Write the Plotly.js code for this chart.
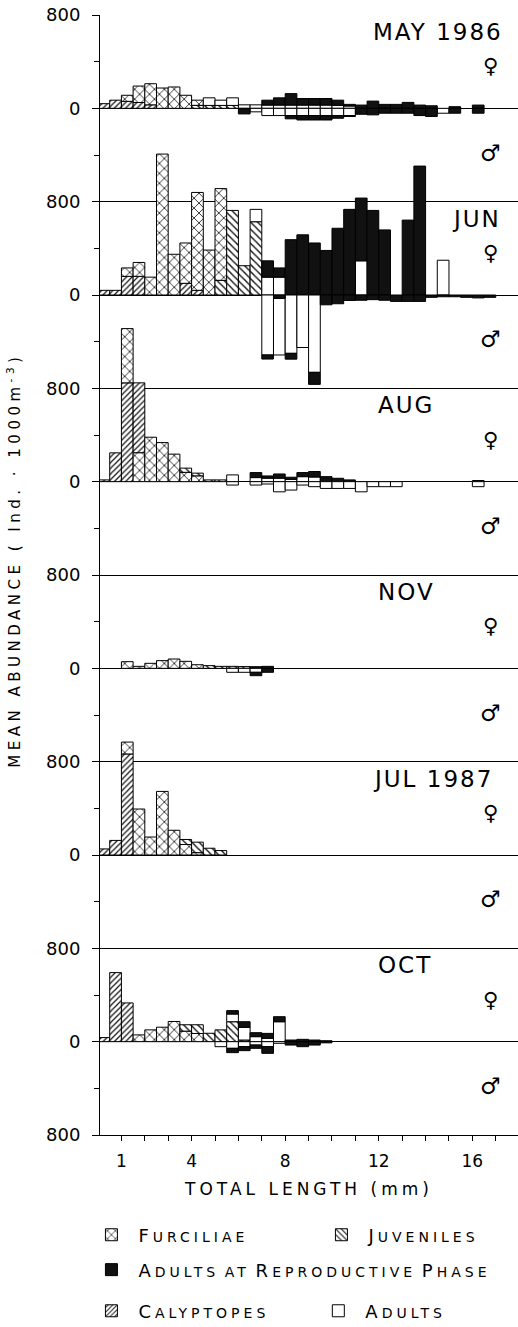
<!DOCTYPE html>
<html><head><meta charset="utf-8">
<script src="https://cdn.plot.ly/plotly-3.0.1.min.js"></script>
<style>
html,body{margin:0;padding:0;background:#fff;}
#chart{width:518px;height:1327px;}
#chart .xtitle{letter-spacing:4px;}
#chart .annotation-text{letter-spacing:2px;}
#chart .annotation-text[data-unformatted^="MEAN"]{letter-spacing:4.5px;}
</style>
</head><body><div id="chart"></div>
<script>
const _ = null;
// size classes (mm): bin centres, 0.5 mm wide
const binCenters = [0.25,0.75,1.25,1.75,2.25,2.75,3.25,3.75,4.25,4.75,5.25,5.75,6.25,6.75,7.25,7.75,8.25,8.75,9.25,9.75,10.25,10.75,11.25,11.75,12.25,12.75,13.25,13.75,14.25,14.75,15.25,15.75,16.25,16.75];
const months = ['MAY 1986','JUN','AUG','NOV','JUL 1987','OCT'];
const categories = ['Calyptopes','Furciliae','Juveniles','Adults','Adults at Reproductive Phase'];
const yTickValues = [800,0,-800,-1600,-2400,-3200,-4000,-4800,-5600,-6400,-7200,-8000,-8800];
const yTickText = ['800','0','800','0','800','0','800','0','800','0','800','0','800'];
const xTickValues = [1,4,8,12,16];
const xTickText = ['1','4','8','12','16'];
const yTitle = 'MEAN ABUNDANCE ( Ind. \u00b7 1000m<sup>-3</sup>)';
const xTitle = 'TOTAL LENGTH (mm)';

// values: mean abundance (ind. 1000 m^-3), each category measured from zero
// MAY 1986
const may_cal  = [40,70,60,50,30];
const may_fur  = [_,_,112,191,211,174,183,112,70];
const may_juv  = [_,_,_,_,_,_,_,_,25,25,25,25];
const may_adF  = [_,_,_,_,_,_,_,_,_,90,70,90,30,30,28,28,28,28,28,28,25,20];
const may_repF = [_,_,_,_,_,_,_,_,_,_,_,_,_,_,70,90,126,84,84,84,70,34,28,62,34,34,51,28,22,_,14,_,28];
const may_adM  = [_,_,_,_,_,_,_,_,_,_,_,_,_,30,62,62,62,62,62,62,62,62,_,_,_,_,_,_,_,42];
const may_repM = [_,_,_,_,_,_,_,_,_,_,_,_,48,_,_,_,90,100,100,100,85,70,51,56,42,42,42,62,70,_,42,_,42];
// JUN
const jun_cal  = [40,40,160,160,_,_,_,100,40];
const jun_fur  = [_,_,232,279,153,1208,349,446,879,385,912];
const jun_juv  = [_,_,_,_,_,_,_,_,_,_,125,725,251,628];
const jun_adF  = [_,_,_,_,_,_,_,_,_,_,_,_,_,734,153,153,_,_,_,_,_,_,293,_,_,_,_,_,_,298];
const jun_repF = [_,_,_,_,_,_,_,_,_,_,_,_,_,_,293,232,474,516,446,382,572,734,831,725,558,_,642,1105];
const jun_adM  = [_,_,_,_,_,_,_,_,_,_,_,_,_,_,514,514,500,450,663];
const jun_repM = [_,_,_,_,_,_,_,_,_,_,_,_,_,_,549,29,550,_,766,84,75,47,45,40,45,55,55,55,20,15,15,20,25,20];
// AUG
const aug_cal  = [15,247,847,847];
const aug_fur  = [_,_,1312,247,381,335,236,80,50];
const aug_juv  = [_,_,_,_,_,_,_,116,73,15,15];
const aug_adF  = [_,_,_,_,_,_,_,_,_,_,_,58,_,35,30,30,20,43,40,_,_,_,_,_,_,_,_,_,_,_,_,_,10];
const aug_repF = [_,_,_,_,_,_,_,_,_,_,_,_,_,78,49,66,38,78,87,43,29,15];
const aug_adM  = [_,_,_,_,_,_,_,_,_,_,_,29,_,29,20,87,72,29,43,58,58,58,87,43,43,43,_,_,_,_,_,_,43];
const aug_repM = [];
// NOV
const nov_cal  = [];
const nov_fur  = [_,_,57,17,43,66,80,60,31];
const nov_juv  = [_,_,_,_,_,_,_,_,_,23,17,17,15];
const nov_adF  = [];
const nov_repF = [_,_,_,_,_,_,_,_,_,_,_,_,_,14,17];
const nov_adM  = [_,_,_,_,_,_,_,_,_,_,_,34,34,34];
const nov_repM = [_,_,_,_,_,_,_,_,_,_,_,_,_,63,34];
// JUL 1987
const jul_cal  = [52,125,866];
const jul_fur  = [_,_,968,394,154,545,212,90,20];
const jul_juv  = [_,_,_,_,_,_,_,133,110,58,38];
const jul_adF  = [];
const jul_repF = [];
const jul_adM  = [];
const jul_repM = [];
// OCT
const oct_cal  = [35,592,332];
const oct_fur  = [_,_,_,58,101,124,173,90,70];
const oct_juv  = [_,_,_,_,_,_,_,145,145,72,101,171,14];
const oct_adF  = [_,_,_,_,_,_,_,_,_,_,_,237,123,43,29,171];
const oct_repF = [_,_,_,_,_,_,_,_,_,_,_,266,171,77,71,214,14,20,14,8];
const oct_adM  = [_,_,_,_,_,_,_,_,_,_,43,57,43,29,43,14];
const oct_repM = [_,_,_,_,_,_,_,_,_,_,_,94,77,57,100,_,29,43,29,10];

const panels = [
  {female:[may_cal,may_fur,may_juv,may_adF,may_repF], male:[[],[],[],may_adM,may_repM]},
  {female:[jun_cal,jun_fur,jun_juv,jun_adF,jun_repF], male:[[],[],[],jun_adM,jun_repM]},
  {female:[aug_cal,aug_fur,aug_juv,aug_adF,aug_repF], male:[[],[],[],aug_adM,aug_repM]},
  {female:[nov_cal,nov_fur,nov_juv,nov_adF,nov_repF], male:[[],[],[],nov_adM,nov_repM]},
  {female:[jul_cal,jul_fur,jul_juv,jul_adF,jul_repF], male:[[],[],[],jul_adM,jul_repM]},
  {female:[oct_cal,oct_fur,oct_juv,oct_adF,oct_repF], male:[[],[],[],oct_adM,oct_repM]}
];

const FONT = 'DejaVu Sans, Arial, sans-serif';
const markers = [
  {color:'white', line:{color:'black',width:1}, pattern:{shape:'/', fgcolor:'#111', bgcolor:'white', size:4, solidity:0.3, fillmode:'replace'}},
  {color:'white', line:{color:'black',width:1}, pattern:{shape:'x', fgcolor:'#111', bgcolor:'white', size:7, solidity:0.22, fillmode:'replace'}},
  {color:'white', line:{color:'black',width:1}, pattern:{shape:'\\', fgcolor:'#111', bgcolor:'white', size:5, solidity:0.28, fillmode:'replace'}},
  {color:'white', line:{color:'black',width:1}},
  {color:'#111', line:{color:'black',width:1}}
];
// one legend box per entry, arranged like the key of the figure
const legendOf = ['legend4','legend','legend2','legend5','legend3'];
// small capitals: capital letters stay large, lower-case letters become small capitals
function smallCaps(s){
  return s.split(' ').map(w => {
    const first = w[0];
    const big = first === first.toUpperCase();
    return (big ? "<span style='letter-spacing:4px'>" + first + "</span>" +
                  "<span style='font-size:14px;letter-spacing:4px'>" + w.slice(1).toUpperCase() + '</span>'
                : "<span style='font-size:14px;letter-spacing:4px'>" + w.toUpperCase() + '</span>');
  }).join(' ');
}

// overlapping histograms: the smaller value is drawn in front
function segments(list){
  const out = list.map(() => ({lo:[], h:[]}));
  for (let i = 0; i < binCenters.length; i++){
    const vals = list.map(s => (s[i] == null ? null : s[i]));
    vals.forEach((v, c) => {
      if (v == null){ out[c].lo.push(null); out[c].h.push(null); return; }
      let lo = 0;
      vals.forEach((w, d) => { if (d !== c && w != null && (w < v || (w === v && d < c)) && w > lo) lo = w; });
      if (v - lo <= 0){ out[c].lo.push(null); out[c].h.push(null); return; }
      out[c].lo.push(lo); out[c].h.push(v - lo);
    });
  }
  return out;
}

const traces = [];
const shown = {};
panels.forEach((p, k) => {
  const off = -1600 * k;
  [['female', 1], ['male', -1]].forEach(([side, sign]) => {
    const seg = segments(p[side]);
    seg.forEach((sg, c) => {
      if (!sg.h.some(v => v != null)) return;
      const show = !shown[c]; shown[c] = true;
      traces.push({
        type:'bar', x: binCenters, y: sg.h.map(v => v == null ? null : sign * v),
        base: sg.lo.map(v => v == null ? null : off + sign * v),
        width: 0.5, marker: markers[c], name: smallCaps(categories[c]),
        legendgroup: categories[c], showlegend: show, legend: legendOf[c],
        hoverinfo: 'skip'
      });
    });
  });
});
categories.forEach((cat, c) => {
  if (!shown[c]) traces.push({type:'bar', x:[_], y:[_], marker: markers[c], name: smallCaps(cat), legend: legendOf[c]});
});

const annotations = [];
const labelPos = [{x:12.0, a:'left'},{x:17.2, a:'right'},{x:12.0, a:'left'},{x:12.0, a:'left'},{x:12.0, a:'left'},{x:12.0, a:'left'}];
months.forEach((m, k) => {
  const off = -1600 * k;
  annotations.push({x: labelPos[k].x, y: off + 655, xref:'x', yref:'y', text: m, showarrow:false, xanchor: labelPos[k].a, yanchor:'middle', font:{family:FONT, size:23, color:'black'}});
  annotations.push({x: 16.8, y: off + 360, xref:'x', yref:'y', text:'\u2640', showarrow:false, font:{family:FONT, size:21, color:'black'}});
  annotations.push({x: 16.8, y: off - 380, xref:'x', yref:'y', text:'\u2642', showarrow:false, font:{family:FONT, size:23, color:'black'}});
});
// vertical axis title
annotations.push({x:-0.205, y:0.513, xref:'paper', yref:'paper', text: yTitle, textangle:-90, showarrow:false, xanchor:'center', yanchor:'middle', font:{family:FONT, size:15, color:'black'}});

const legendBase = {orientation:'v', bgcolor:'rgba(0,0,0,0)', borderwidth:0, font:{family:FONT, size:18, color:'black'},
  xref:'container', yref:'container', xanchor:'left', yanchor:'middle', itemwidth:44, itemclick:false, itemdoubleclick:false};

const layout = {
  width:518, height:1327,
  margin:{l:100, r:0, t:15, b:192, autoexpand:false},
  paper_bgcolor:'white', plot_bgcolor:'white',
  barmode:'overlay', bargap:0,
  font:{family:FONT, color:'black'},
  xaxis:{range:[0.085,17.95], tickmode:'array', tickvals:xTickValues, ticktext:xTickText, ticks:'outside', ticklen:5, tickcolor:'black',
    minor:{tickmode:'linear', tick0:0, dtick:1, ticks:'outside', ticklen:5, tickcolor:'black', showgrid:false},
    showline:true, linecolor:'black', linewidth:1, showgrid:false, zeroline:false, tickfont:{family:FONT, size:17}, ticklabelstandoff:6,
    title:{text: xTitle, font:{family:FONT, size:17}, standoff:12}},
  yaxis:{range:[-8800,800], tickmode:'array', tickvals:yTickValues, ticktext:yTickText, ticks:'outside', ticklen:7, tickcolor:'black',
    showline:true, linecolor:'black', linewidth:1, showgrid:true, gridcolor:'black', gridwidth:1, zeroline:false,
    tickfont:{family:FONT, size:18}, ticklabelstandoff:8,
    minor:{tickmode:'linear', tick0:0, dtick:400, ticks:'outside', ticklen:5, tickcolor:'black', showgrid:false}},
  legend:  Object.assign({}, legendBase, {x:0.163, y:0.0693}),
  legend2: Object.assign({}, legendBase, {x:0.607, y:0.0693}),
  legend3: Object.assign({}, legendBase, {x:0.163, y:0.0430}),
  legend4: Object.assign({}, legendBase, {x:0.163, y:0.0120}),
  legend5: Object.assign({}, legendBase, {x:0.601, y:0.0120}),
  annotations: annotations,
  showlegend:true
};

Plotly.newPlot('chart', traces, layout, {displayModeBar:false, staticPlot:true});
</script>
</body></html>
